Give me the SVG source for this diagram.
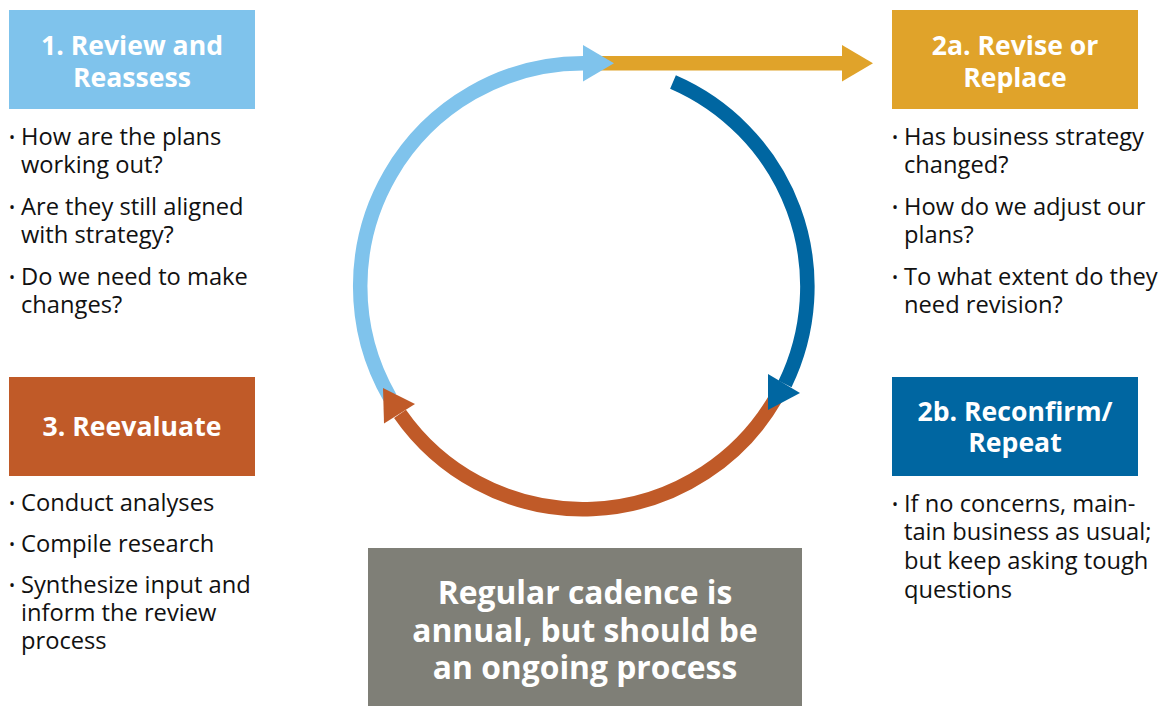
<svg xmlns="http://www.w3.org/2000/svg" width="1167" height="706" viewBox="0 0 1167 706">
<style>
.t{font-family:"Open Sans","Noto Sans","Liberation Sans",sans-serif;font-weight:bold;font-size:26.6px;fill:#fff;text-anchor:middle}
.g{font-family:"Open Sans","Noto Sans","Liberation Sans",sans-serif;font-weight:bold;font-size:31.8px;fill:#fff;text-anchor:middle}
.b{font-family:"Open Sans","Noto Sans","Liberation Sans",sans-serif;font-size:23.7px;fill:#111}
.d{font-family:"Open Sans","Noto Sans","Liberation Sans",sans-serif;font-size:16px;fill:#111}
.arc{fill:none;stroke-width:14.5}
</style>
<rect width="1167" height="706" fill="#fff"/>
<g id="connectors">
  <g id="gold-arrow">
    <line x1="590" y1="63.3" x2="843" y2="63.3" stroke="#e0a32a" stroke-width="14.5"/>
    <polygon points="842,45 873,63.3 842,81.5" fill="#e0a32a"/>
  </g>
  <g id="lightblue-arc">
    <path class="arc" stroke="#7fc3ec" d="M 389.9,397.5 A 223 223 0 0 1 584,63.3"/>
    <polygon points="583,45 614,63.3 583,81.5" fill="#7fc3ec"/>
  </g>
  <g id="orange-arc">
    <path class="arc" stroke="#c05a28" d="M 776.1,397.5 A 223 223 0 0 1 400,413.8"/>
    <polygon points="415,404 383,388 384,423.5" fill="#c05a28"/>
  </g>
  <g id="blue-arc">
    <path class="arc" stroke="#0066a1" d="M 673,82 A 223 223 0 0 1 785,384"/>
    <polygon points="768,374 800,393 768,410" fill="#0066a1"/>
  </g>
</g>
<g id="node-1">
  <rect x="9" y="10" width="246" height="99" fill="#7fc3ec"/>
  <text class="t" x="132" y="54.5">1. Review and</text>
  <text class="t" x="132" y="86.5">Reassess</text>
  <text class="d" x="9" y="143">•</text><text class="b" x="21" y="145">How are the plans</text>
  <text class="b" x="21" y="173">working out?</text>
  <text class="d" x="9" y="213">•</text><text class="b" x="21" y="215">Are they still aligned</text>
  <text class="b" x="21" y="243">with strategy?</text>
  <text class="d" x="9" y="283">•</text><text class="b" x="21" y="285">Do we need to make</text>
  <text class="b" x="21" y="313">changes?</text>
</g>
<g id="node-2a">
  <rect x="892" y="10" width="246" height="99" fill="#e0a32a"/>
  <text class="t" x="1015" y="54.5">2a. Revise or</text>
  <text class="t" x="1015" y="86.5">Replace</text>
  <text class="d" x="892" y="143">•</text><text class="b" x="904" y="145">Has business strategy</text>
  <text class="b" x="904" y="173">changed?</text>
  <text class="d" x="892" y="213">•</text><text class="b" x="904" y="215">How do we adjust our</text>
  <text class="b" x="904" y="243">plans?</text>
  <text class="d" x="892" y="283">•</text><text class="b" x="904" y="285">To what extent do they</text>
  <text class="b" x="904" y="313">need revision?</text>
</g>
<g id="node-3">
  <rect x="9" y="377" width="246" height="99" fill="#c05a28"/>
  <text class="t" x="132" y="435.5">3. Reevaluate</text>
  <text class="d" x="9" y="509">•</text><text class="b" x="21" y="511">Conduct analyses</text>
  <text class="d" x="9" y="550">•</text><text class="b" x="21" y="552">Compile research</text>
  <text class="d" x="9" y="591">•</text><text class="b" x="21" y="593">Synthesize input and</text>
  <text class="b" x="21" y="621">inform the review</text>
  <text class="b" x="21" y="649">process</text>
</g>
<g id="node-2b">
  <rect x="892" y="377" width="246" height="99" fill="#0066a1"/>
  <text class="t" x="1015" y="420.5">2b. Reconfirm/</text>
  <text class="t" x="1015" y="451.5">Repeat</text>
  <text class="d" x="892" y="510">•</text><text class="b" x="904" y="512">If no concerns, main-</text>
  <text class="b" x="904" y="540">tain business as usual;</text>
  <text class="b" x="904" y="569">but keep asking tough</text>
  <text class="b" x="904" y="598">questions</text>
</g>
<g id="note">
  <rect x="368" y="548" width="434" height="158" fill="#7f7f77"/>
  <text class="g" x="585" y="604">Regular cadence is</text>
  <text class="g" x="585" y="642">annual, but should be</text>
  <text class="g" x="585" y="679">an ongoing process</text>
</g>
</svg>
